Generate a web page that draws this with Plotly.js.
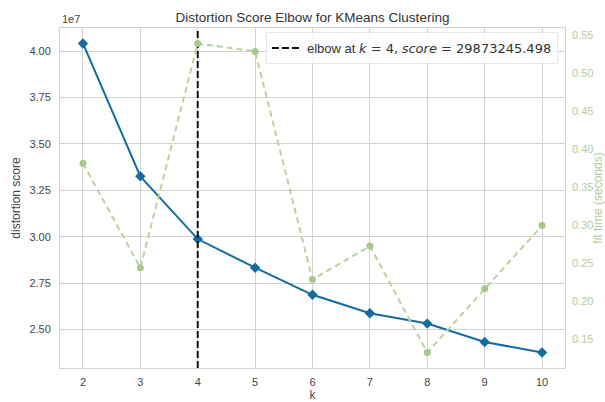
<!DOCTYPE html>
<html>
<head>
<meta charset="utf-8">
<script src="https://cdn.plot.ly/plotly-3.0.1.min.js"></script>
<style>
  html, body { margin: 0; padding: 0; background: #ffffff; }
  #chart { width: 605px; height: 402px; }
</style>
</head>
<body>
<div id="chart"></div>
<script>
// Number of clusters tried
const kValues = [2, 3, 4, 5, 6, 7, 8, 9, 10];
// Distortion score (sum of squared distances) per k
const distortionScores = [40410000, 33250000, 29873245.498, 28330000, 26870000, 25880000, 25320000, 24330000, 23760000];
// Fit time in seconds per k
const fitTimes = [0.382, 0.2445, 0.5395, 0.529, 0.229, 0.273, 0.133, 0.217, 0.300];
// Detected elbow
const elbowK = 4;
const elbowScore = 29873245.498;
// Left axis ticks (in units of 1e7)
const distortionTicks = [2.50, 2.75, 3.00, 3.25, 3.50, 3.75, 4.00];
// Right axis ticks
const timeTicks = [0.15, 0.20, 0.25, 0.30, 0.35, 0.40, 0.45, 0.50, 0.55];

const FONT = 'Liberation Sans, Arial, sans-serif';
const BLUE = '#126c9f';
const GREEN_MARK = '#a6c98b';
const GREEN_LINE = '#b7d3a0';
const GREEN_TEXT = '#b3cc98';
const GRID = '#d2d2d2';

// autoscale with 5% padding, like matplotlib's default margins
function padded(vals, frac) {
  const lo = Math.min(...vals), hi = Math.max(...vals);
  const m = (hi - lo) * frac;
  return [lo - m, hi + m];
}
const xRange = padded(kValues, 0.05);
const yRange = padded(distortionScores, 0.05);
const y2Range = padded(fitTimes, 0.05);

const mathSpan = s => '<span style="font-family:DejaVu Sans">' + s + '</span>';

const traces = [
  {
    x: kValues, y: distortionScores, type: 'scatter', mode: 'lines+markers',
    line: { color: BLUE, width: 2 },
    marker: { symbol: 'diamond', size: 8, color: BLUE },
    showlegend: false, hoverinfo: 'skip', xaxis: 'x', yaxis: 'y'
  },
  {
    x: [elbowK, elbowK], y: yRange, type: 'scatter', mode: 'lines',
    line: { color: '#111111', width: 2, dash: '7px,3px' },
    name: 'elbow at ' + mathSpan('<i>k</i> = ' + elbowK + ',') + ' ' +
          mathSpan('<i>score</i> = ' + elbowScore.toFixed(3)),
    showlegend: true, hoverinfo: 'skip', xaxis: 'x', yaxis: 'y'
  },
  {
    x: kValues, y: fitTimes, type: 'scatter', mode: 'lines+markers',
    line: { color: GREEN_LINE, width: 2, dash: '6px,4px' },
    marker: { symbol: 'circle', size: 7, color: GREEN_MARK },
    showlegend: false, hoverinfo: 'skip', xaxis: 'x', yaxis: 'y2'
  }
];

const layout = {
  width: 605, height: 402,
  margin: { l: 60, r: 40, t: 28, b: 34, pad: 0 },
  paper_bgcolor: '#ffffff', plot_bgcolor: '#ffffff',
  font: { family: FONT, size: 11, color: '#444444' },
  title: {
    text: 'Distortion Score Elbow for KMeans Clustering',
    font: { family: FONT, size: 13.5, color: '#333333' },
    x: 0.5165, xanchor: 'center', xref: 'container',
    y: 0.958, yanchor: 'middle', yref: 'container'
  },
  xaxis: {
    range: xRange, tickvals: kValues, ticktext: kValues.map(String),
    showgrid: true, gridcolor: GRID, gridwidth: 1, zeroline: false,
    showline: true, linecolor: GRID, linewidth: 1, mirror: true,
    ticks: '', ticklabelstandoff: 4,
    tickfont: { family: FONT, size: 11, color: '#444444' },
    title: { text: 'k', font: { family: FONT, size: 12, color: '#444444' }, standoff: 4 }
  },
  yaxis: {
    range: yRange,
    tickvals: distortionTicks.map(v => v * 1e7),
    ticktext: distortionTicks.map(v => v.toFixed(2)),
    showgrid: true, gridcolor: GRID, gridwidth: 1, zeroline: false,
    showline: true, linecolor: GRID, linewidth: 1, mirror: true,
    ticks: '', ticklabelstandoff: 6,
    tickfont: { family: FONT, size: 11, color: '#444444' },
    title: { text: 'distortion score', font: { family: FONT, size: 12, color: '#444444' }, standoff: 6 }
  },
  yaxis2: {
    range: y2Range, overlaying: 'y', side: 'right', anchor: 'x',
    tickvals: timeTicks, ticktext: timeTicks.map(v => v.toFixed(2)),
    showgrid: false, zeroline: false, showline: false,
    ticks: '', ticklabelstandoff: 6,
    tickfont: { family: FONT, size: 11, color: GREEN_TEXT },
    title: { text: 'fit time (seconds)', font: { family: FONT, size: 12, color: GREEN_TEXT }, standoff: 9 }
  },
  legend: {
    x: 0.986, xanchor: 'right', y: 0.988, yanchor: 'top',
    bgcolor: 'rgba(255,255,255,0.85)', bordercolor: '#e6e6e6', borderwidth: 1,
    font: { family: FONT, size: 13, color: '#333333' }
  },
  annotations: [
    {
      text: '1e7', xref: 'paper', yref: 'paper', x: 0, y: 1,
      xanchor: 'left', yanchor: 'bottom', yshift: 1, showarrow: false,
      font: { family: FONT, size: 11, color: '#444444' }
    }
  ]
};

Plotly.newPlot('chart', traces, layout, { staticPlot: true, displayModeBar: false });
</script>
</body>
</html>
